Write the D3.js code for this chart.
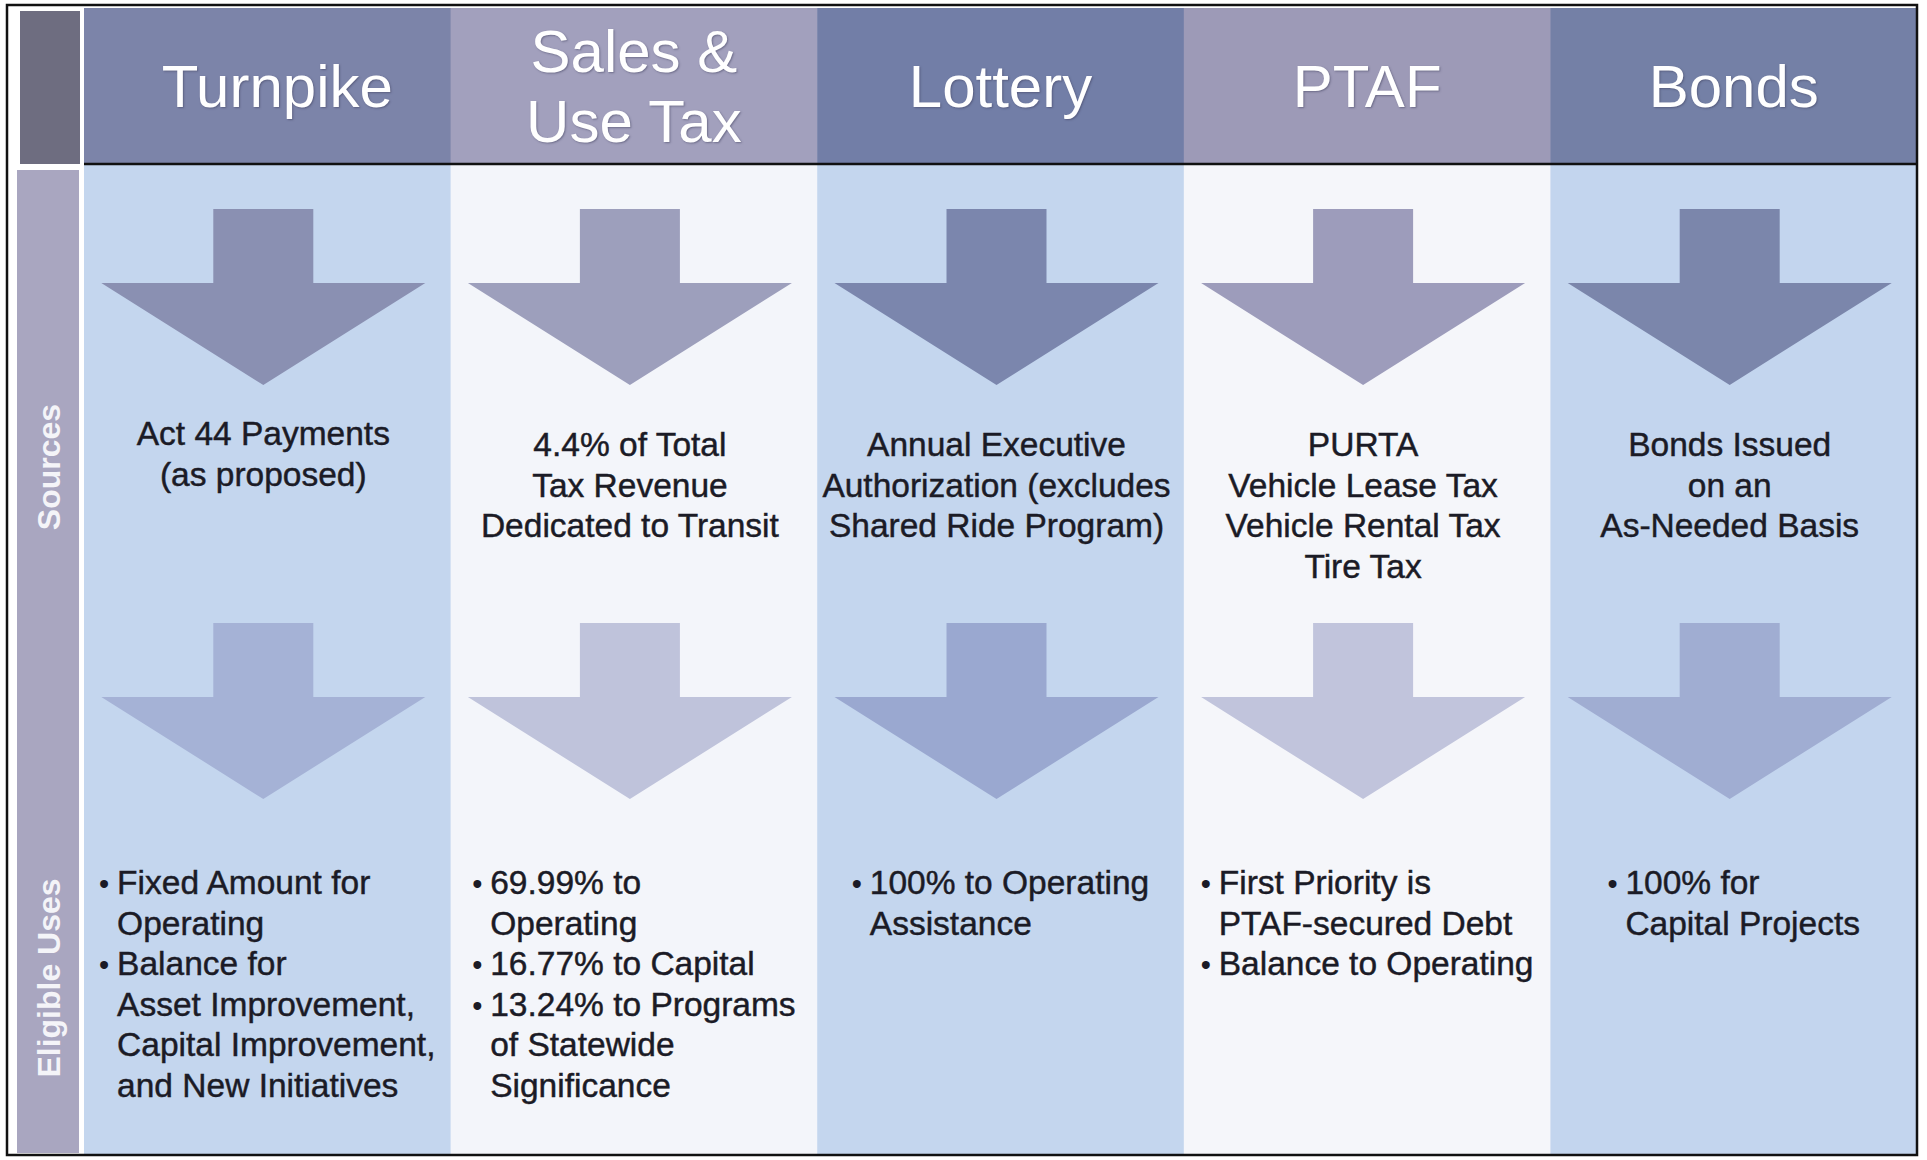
<!DOCTYPE html>
<html>
<head>
<meta charset="utf-8">
<script src="https://cdn.jsdelivr.net/npm/d3@7"></script>
<style>
  body { margin: 0; background: #fff; }
  svg text { font-family: "Liberation Sans", Arial, sans-serif; }
</style>
</head>
<body>
<div class="canvas"></div>
<script>
// data
const columns = ['Turnpike', 'Sales & Use Tax', 'Lottery', 'PTAF', 'Bonds'];
const headerLines = [
  ['Turnpike'],
  ['Sales &', 'Use Tax'],
  ['Lottery'],
  ['PTAF'],
  ['Bonds']
];
const sourceLines = [
  ['Act 44 Payments', '(as proposed)'],
  ['4.4% of Total', 'Tax Revenue', 'Dedicated to Transit'],
  ['Annual Executive', 'Authorization (excludes', 'Shared Ride Program)'],
  ['PURTA', 'Vehicle Lease Tax', 'Vehicle Rental Tax', 'Tire Tax'],
  ['Bonds Issued', 'on an', 'As-Needed Basis']
];
// each bullet is a list of lines
const useBullets = [
  [['Fixed Amount for', 'Operating'], ['Balance for', 'Asset Improvement,', 'Capital Improvement,', 'and New Initiatives']],
  [['69.99% to', 'Operating'], ['16.77% to Capital'], ['13.24% to Programs', 'of Statewide', 'Significance']],
  [['100% to Operating', 'Assistance']],
  [['First Priority is', 'PTAF-secured Debt'], ['Balance to Operating']],
  [['100% for', 'Capital Projects']]
];
const rowLabels = ['Sources', 'Eligible Uses'];

// colours per column
const headFill = ['#7c84a9', '#a2a0bd', '#727ea7', '#9d9ab7', '#7480a6'];
const bodyFill = ['#c4d6ee', '#f3f5fa', '#c4d6ee', '#f5f6fa', '#c3d5ee'];
const arrow1Fill = ['#8a90b2', '#9d9fbc', '#7b86ad', '#9d9cbb', '#7b86ab'];
const arrow2Fill = ['#a5b2d6', '#bfc3db', '#9aa8d0', '#c1c4dc', '#a0add2'];

const W = 1927, H = 1160;
const frame = { left: 7, top: 5, right: 1917, bottom: 1155 };
const headTop = 8, headBottom = 164;
const ink = '#1b1b26';

const svg = d3.select('.canvas')
  .append('svg')
  .attr('width', W)
  .attr('height', H);

const x = d3.scaleBand()
  .domain(columns)
  .range([84, frame.right])
  .paddingInner(0);

// left side bar
svg.append('rect')
  .attr('x', 20).attr('y', 11)
  .attr('width', 60).attr('height', headBottom - 11)
  .attr('fill', '#6e6d80');
svg.append('rect')
  .attr('x', 17).attr('y', 170)
  .attr('width', 62).attr('height', frame.bottom - 2 - 170)
  .attr('fill', '#a9a6c0');

const labelY = d3.scaleOrdinal().domain(rowLabels).range([467, 978]);
svg.selectAll('.rowlabel')
  .data(rowLabels)
  .enter().append('text')
  .attr('class', 'rowlabel')
  .attr('transform', d => `translate(49,${labelY(d)}) rotate(-90)`)
  .attr('text-anchor', 'middle')
  .attr('dy', '0.35em')
  .attr('fill', '#f4f4f8')
  .attr('font-weight', 'bold')
  .attr('font-size', 32)
  .text(d => d);

// columns
const col = svg.selectAll('.col')
  .data(columns)
  .enter().append('g')
  .attr('class', 'col');

col.append('rect')
  .attr('x', d => x(d)).attr('y', headBottom)
  .attr('width', x.bandwidth() + 0.5)
  .attr('height', frame.bottom - headBottom)
  .attr('fill', (d, i) => bodyFill[i]);

col.append('rect')
  .attr('x', d => x(d)).attr('y', headTop)
  .attr('width', x.bandwidth() + 0.5)
  .attr('height', headBottom - headTop)
  .attr('fill', (d, i) => headFill[i]);

// header titles
col.each(function(d, i) {
  const g = d3.select(this);
  const lines = headerLines[i];
  const cx = x(d) + x.bandwidth() / 2 + (i === 0 ? 10 : 0);
  const mid = (headTop + headBottom) / 2;
  const step = 70;
  lines.forEach((t, j) => {
    g.append('text')
      .attr('x', cx)
      .attr('y', mid + 21 + (j - (lines.length - 1) / 2) * step)
      .attr('text-anchor', 'middle')
      .attr('fill', '#ffffff')
      .attr('font-size', 60)
      .style('text-shadow', '1px 1px 2px rgba(60,60,90,0.5)')
      .text(t);
  });
});

// arrows
const arrow = (cx, top) => {
  const p = d3.path();
  p.moveTo(cx - 50, top);
  p.lineTo(cx + 50, top);
  p.lineTo(cx + 50, top + 74);
  p.lineTo(cx + 162, top + 74);
  p.lineTo(cx, top + 176);
  p.lineTo(cx - 162, top + 74);
  p.lineTo(cx - 50, top + 74);
  p.closePath();
  return p.toString();
};

col.append('path')
  .attr('d', d => arrow(x(d) + x.bandwidth() / 2 - 4, 209))
  .attr('fill', (d, i) => arrow1Fill[i]);

col.append('path')
  .attr('d', d => arrow(x(d) + x.bandwidth() / 2 - 4, 623))
  .attr('fill', (d, i) => arrow2Fill[i]);

// sources text
const lineStep = 40.5;
col.each(function(d, i) {
  const g = d3.select(this);
  const cx = x(d) + x.bandwidth() / 2 - 4;
  const y0 = i === 0 ? 445 : 456;
  sourceLines[i].forEach((t, j) => {
    g.append('text')
      .attr('x', cx)
      .attr('y', y0 + j * lineStep)
      .attr('text-anchor', 'middle')
      .attr('fill', ink)
      .attr('stroke', ink)
      .attr('stroke-width', 0.45)
      .attr('font-size', 33.5)
      .text(t);
  });
});

// eligible uses bullets, block centred in its column
col.each(function(d, i) {
  const g = d3.select(this).append('g');
  let row = 0;
  const indent = 18;
  useBullets[i].forEach(b => {
    g.append('text')
      .attr('x', 0)
      .attr('y', 894 + row * lineStep)
      .attr('fill', ink)
      .attr('font-size', 29)
      .text('\u2022');
    b.forEach(t => {
      g.append('text')
        .attr('class', 'use')
        .attr('x', indent)
        .attr('y', 894 + row * lineStep)
        .attr('fill', ink)
        .attr('stroke', ink)
        .attr('stroke-width', 0.45)
        .attr('font-size', 33.5)
        .text(t);
      row++;
    });
  });
  const w = d3.max(g.selectAll('text.use').nodes(), n => n.getComputedTextLength()) + indent;
  const cx = x(d) + x.bandwidth() / 2;
  g.attr('transform', `translate(${cx - w / 2},0)`);
});

// frame lines
svg.append('line')
  .attr('x1', 84).attr('x2', frame.right)
  .attr('y1', headBottom).attr('y2', headBottom)
  .attr('stroke', '#111').attr('stroke-width', 2.5);

svg.append('rect')
  .attr('x', frame.left).attr('y', frame.top)
  .attr('width', frame.right - frame.left)
  .attr('height', frame.bottom - frame.top)
  .attr('fill', 'none')
  .attr('stroke', '#111')
  .attr('stroke-width', 2.5);
</script>
</body>
</html>
